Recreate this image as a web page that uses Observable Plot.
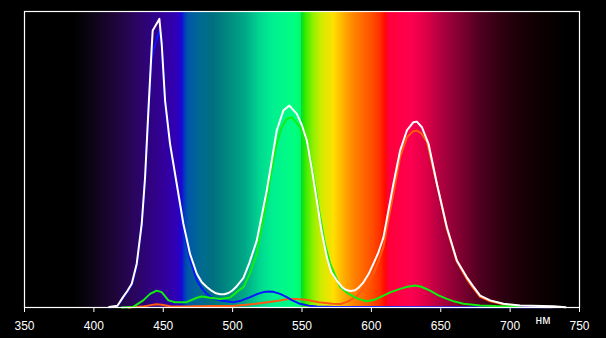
<!DOCTYPE html>
<html>
<head>
<meta charset="utf-8">
<script src="https://cdn.jsdelivr.net/npm/d3@7"></script>
<script src="https://cdn.jsdelivr.net/npm/@observablehq/plot@0.6"></script>
<style>
  html, body { margin: 0; padding: 0; background: #000; }
  #chart { width: 606px; height: 338px; }
</style>
</head>
<body>
<div id="chart"></div>
<script>
// ---- Data ----
const xTicks = [350, 400, 450, 500, 550, 600, 650, 700, 750];
const unitLabel = "нм";

// White: total spectrum
const whiteNm = [411, 417, 421, 424, 427.3, 430.9, 434.5, 436.9, 439.3, 441.7, 442.4, 447.2, 448.9, 451.3, 454.9, 459.7, 464.5, 469.3, 474.2, 477.8, 481.4, 485, 488, 491, 494, 497, 500, 503, 507.8, 512, 517.4, 521, 524.6, 528, 531.8, 536.6, 540.9, 546.3, 550, 553.5, 557, 560.7, 564, 567.9, 571, 575.1, 579, 582, 585, 588.3, 591, 594.3, 598, 601.5, 605, 608.7, 612, 615.9, 620.7, 625.6, 630.3, 632.8, 636.4, 641.2, 647.2, 654.4, 661.6, 668.8, 673, 678.4, 685.6, 695.2, 707.2, 731.3, 740];
const whiteVal = [0.2, 0.6, 3.5, 5.5, 8, 14.8, 28.3, 44, 66.6, 88, 93.6, 97.5, 89, 70, 55.3, 41.8, 28.3, 18.1, 11.4, 8.5, 6.9, 5.6, 4.8, 4.5, 4.5, 4.9, 5.8, 7.2, 10, 15, 22.6, 31, 39.5, 49, 59.8, 66.6, 68.2, 65.4, 61.5, 56.4, 47, 36.1, 26, 17, 12, 9.1, 6.8, 5.9, 5.6, 5.8, 6.8, 8.5, 11.3, 14.8, 18.5, 23.7, 32, 41.8, 53, 59.8, 62.6, 62.8, 60.9, 55.3, 41.8, 27.1, 15.9, 10.2, 7.4, 4, 2.4, 1.25, 0.7, 0.45, 0.1];

// Green channel
const greenNm = [420, 428.3, 435.6, 440.5, 445.3, 448.9, 453.7, 458.5, 466.9, 474.2, 477.8, 483.8, 491, 498.2, 504.2, 507.8, 512, 517.4, 521, 524.6, 528, 531.8, 535.5, 539, 542.6, 548.6, 555.8, 559.5, 563.1, 566.5, 570.3, 577.5, 583.5, 590, 596.7, 602, 608.7, 614, 620.7, 626, 631.5, 636, 642.3, 648, 654.4, 660, 666.4, 678.4, 690, 706];
const greenVal = [0, 0.2, 2.4, 4.6, 5.7, 5.2, 2.4, 1.8, 1.8, 3.3, 3.7, 3.3, 2.9, 3.4, 5.7, 6.9, 11, 18.1, 27, 36.1, 46, 55.3, 61, 63.7, 64.3, 60.9, 50.8, 41, 30.5, 21.5, 14.8, 6.9, 4.6, 3, 2.1, 2.6, 4, 5.2, 6.3, 7, 7.4, 7, 5.7, 4.2, 2.9, 2, 1.25, 0.7, 0.5, 0.4];

// Blue channel
const blueNm = [411, 417, 421, 424, 427.3, 430.9, 434.5, 436.9, 439.3, 441.7, 442.4, 447.2, 448.9, 451.3, 454.9, 459.7, 464.5, 469.3, 474.2, 477.8, 481.4, 486, 491, 500.5, 506, 512.6, 518, 522.2, 527, 530, 534.2, 539, 543, 548.6, 555, 560.7, 575, 600, 650, 700, 732];
const blueVal = [0, 0.5, 3.2, 5.2, 7.6, 14.2, 27.5, 43, 65.5, 84, 86, 93.6, 88, 69, 54.5, 41, 27.3, 16.4, 9.1, 6.5, 4.6, 3, 2.4, 1.8, 2.3, 3.5, 4.6, 5.2, 5.4, 5.2, 4.6, 3.5, 2.4, 1.25, 0.6, 0.3, 0.2, 0.15, 0.1, 0.1, 0.1];

// Red channel
const redNm = [425, 435, 441, 445, 449, 455, 465, 475, 485, 500, 510, 517, 525, 534, 540, 546, 553, 562, 572, 578, 583, 590, 596, 601.5, 605, 608.7, 612, 615.9, 620.7, 625.6, 630, 632.8, 636, 640, 647.2, 654.4, 661.6, 668.8, 673, 678.4, 685.6, 695.2, 707, 720, 730];
const redVal = [0, 0.3, 0.8, 1.1, 0.9, 0.4, 0.3, 0.4, 0.5, 0.5, 0.9, 1.25, 1.8, 2.4, 2.9, 2.9, 2.6, 1.8, 1.3, 1.2, 2, 4, 7.5, 11.4, 15.5, 20.4, 29, 38.4, 50.8, 57.5, 59.5, 59.8, 58.8, 56, 41.8, 26.5, 15.5, 9.6, 6.8, 3.6, 2.1, 1.1, 0.5, 0.2, 0.1];

// Background spectrum gradient (style)
const spectrumStops = [
  [350, "#000000"], [386, "#000000"], [400, "#0e0518"], [415, "#1e0538"], [430, "#2a0560"],
  [450, "#33009a"], [460, "#3000b8"], [463.5, "#1808d8"], [465, "#0038c0"], [468, "#0058a8"],
  [477, "#006a90"], [486, "#007080"], [499, "#009080"], [509, "#00a888"], [520, "#00d890"],
  [529, "#00f090"], [545, "#00ff80"], [549.3, "#00f870"], [549.6, "#00e020"], [553, "#40ec00"],
  [558, "#90f000"], [564, "#d0ec00"], [572.6, "#ffe000"], [581, "#ffa800"], [588, "#ff8000"],
  [600, "#ff5000"], [606, "#ff3000"], [610, "#ff0800"], [612, "#ff0038"], [628, "#ff0050"],
  [639, "#e00048"], [650, "#b00040"], [664, "#800030"], [678, "#500020"], [693, "#300010"],
  [707, "#1a0008"], [725, "#0a0000"], [743, "#000000"], [750, "#000000"]
];

const chart = Plot.plot({
  width: 606,
  height: 338,
  marginLeft: 24,
  marginRight: 27,
  marginTop: 11,
  marginBottom: 31,
  style: { background: "#000", color: "#fff", fontSize: "12px", fontFamily: "'Liberation Sans', Arial, sans-serif" },
  x: { domain: [350, 750], ticks: xTicks, tickSize: 5, tickPadding: 9, label: null, tickFormat: d => String(d) },
  y: { domain: [0, 100], axis: null },
  marks: [
    Plot.frame({ fill: "url(#spectrum)", stroke: "none" }),
    Plot.line(redVal, { x: redNm, y: redVal, stroke: "#ff5a10", strokeWidth: 2 }),
    Plot.line(blueVal, { x: blueNm, y: blueVal, stroke: "#0a14ff", strokeWidth: 2 }),
    Plot.line(greenVal, { x: greenNm, y: greenVal, stroke: "#10f010", strokeWidth: 2 }),
    Plot.line(whiteVal, { x: whiteNm, y: whiteVal, stroke: "#ffffff", strokeWidth: 2 }),
    Plot.frame({ stroke: "#fff", strokeWidth: 1.2 }),
    Plot.text([unitLabel], { frameAnchor: "bottom-right", dx: -29, dy: 13, textAnchor: "end", lineAnchor: "middle", fill: "#ffffff", fontSize: 12, stroke: "none" })
  ]
});

const svg = d3.select(chart.tagName.toLowerCase() === "svg" ? chart : chart.querySelector("svg"));
const grad = svg.insert("defs", ":first-child").append("linearGradient")
  .attr("id", "spectrum").attr("x1", "0").attr("x2", "1").attr("y1", "0").attr("y2", "0");
grad.selectAll("stop").data(spectrumStops).join("stop")
  .attr("offset", d => ((d[0] - 350) / 400).toFixed(5))
  .attr("stop-color", d => d[1]);

document.getElementById("chart").appendChild(chart);
</script>
</body>
</html>
